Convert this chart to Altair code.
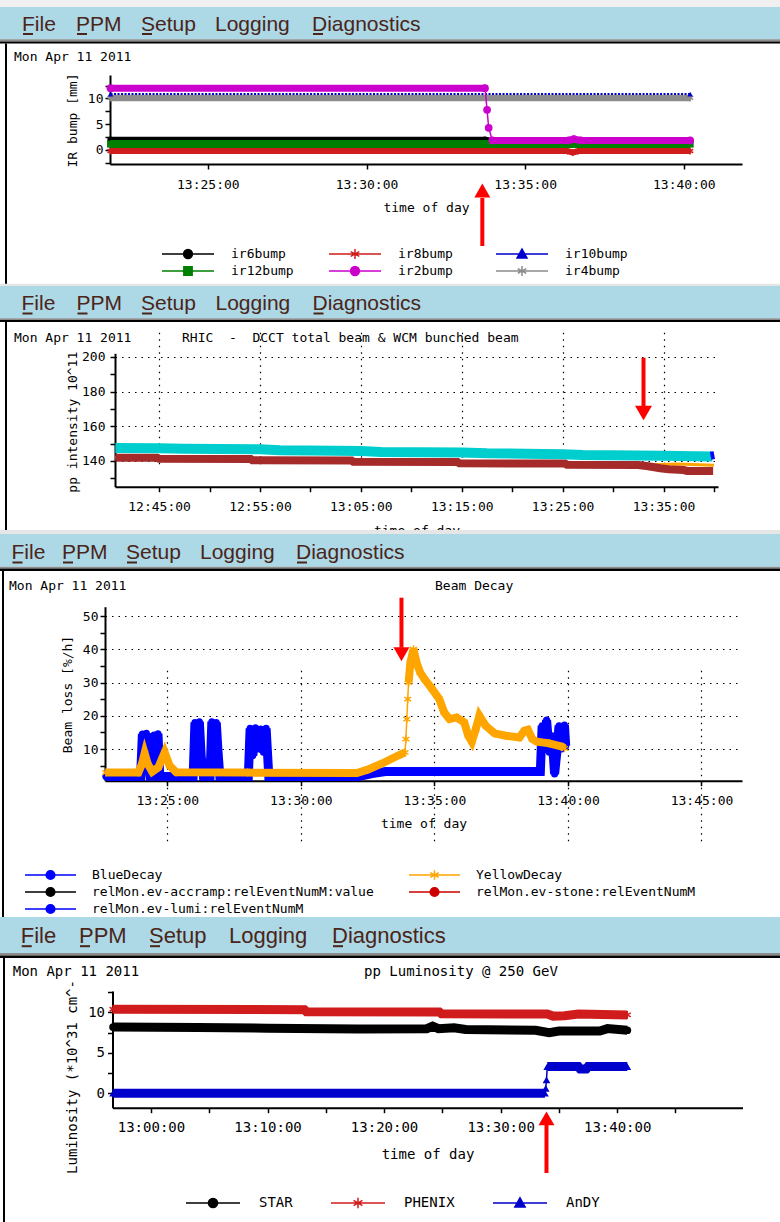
import math
import altair as alt
import pandas as pd

DAY = "2011-04-11"

# ---------------- IR bumps ----------------
ir_names = ["ir6bump", "ir8bump", "ir10bump", "ir12bump", "ir2bump", "ir4bump"]
ir_colors = ["#000000", "#d01c1c", "#0000cc", "#008000", "#cc00cc", "#8c8c8c"]
ir_markers = ["circle", "asterisk", "triangle", "square", "circle", "asterisk"]
ir6_t = ["13:21:56", "13:33:44", "13:33:58", "13:40:12"]
ir6_v = [2.0, 2.0, 1.8, 1.8]
ir8_t = ["13:21:56", "13:36:20", "13:36:30", "13:36:40", "13:40:12"]
ir8_v = [-0.2, -0.2, -0.5, -0.2, -0.2]
ir10_t = ["13:21:56", "13:40:12"]
ir10_v = [10.85, 10.85]
ir12_t = ["13:21:56", "13:40:12"]
ir12_v = [1.15, 1.15]
ir2_t = ["13:21:56", "13:33:44", "13:33:48", "13:33:51", "13:33:58",
         "13:36:22", "13:36:32", "13:36:45", "13:40:12"]
ir2_v = [12.0, 12.0, 7.8, 4.3, 1.85, 1.85, 2.1, 1.85, 1.85]
ir4_t = ["13:21:56", "13:40:12"]
ir4_v = [10.1, 10.1]
ir_xticks = ["13:25:00", "13:30:00", "13:35:00", "13:40:00"]
ir_yticks = [-2.5, 0, 2.5, 5, 7.5, 10, 12.5]

# ---------------- DCCT / WCM intensity ----------------
cyan_t = ["12:40:40", "12:45:00", "12:47:30", "12:55:00", "12:57:00", "13:05:00", "13:07:00",
          "13:15:00", "13:17:30", "13:25:00", "13:27:00", "13:35:00", "13:39:50"]
cyan_v = [147.5, 147.4, 147.0, 146.7, 146.2, 145.7, 145.2, 144.9, 144.4, 143.9, 143.5, 143.0, 142.6]
brown_t = ["12:40:40", "12:44:50", "12:45:00", "12:54:05", "12:54:15", "13:04:05", "13:04:15",
           "13:14:35", "13:14:45", "13:25:15", "13:25:25", "13:32:30", "13:33:30", "13:34:40",
           "13:35:30", "13:37:00", "13:37:20", "13:39:55"]
brown_v = [141.8, 141.8, 141.3, 141.2, 140.4, 140.3, 139.5, 139.4, 138.7, 138.5, 137.9, 137.7,
           137.0, 135.8, 135.3, 134.8, 134.3, 134.3]
amber_t = ["12:40:40", "13:33:30", "13:36:25", "13:40:00"]
amber_v = [142.0, 137.9, 138.2, 137.6]
navy_t = ["13:39:40", "13:40:02"]
navy_v = [143.0, 143.4]
dcct_xticks = ["12:45:00", "12:50:00", "12:55:00", "13:00:00", "13:05:00", "13:10:00", "13:15:00",
               "13:20:00", "13:25:00", "13:30:00", "13:35:00", "13:40:00"]
dcct_yticks = [130, 140, 150, 160, 170, 180, 190, 200]

# ---------------- Beam decay ----------------
decay_names = ["BlueDecay", "YellowDecay", "relMon.ev-accramp:relEventNumM:value",
               "relMon.ev-stone:relEventNumM", "relMon.ev-lumi:relEventNumM"]
decay_colors = ["#0000ff", "#ffa500", "#000000", "#cc0000", "#0000ff"]
decay_markers = ["circle", "asterisk", "circle", "circle", "circle"]
yellow_t = ["13:22:42", "13:23:55", "13:24:03", "13:24:09", "13:24:16", "13:24:26", "13:24:40",
            "13:24:54", "13:25:05", "13:25:20", "13:28:00", "13:32:06", "13:32:30", "13:33:00",
            "13:33:41", "13:33:54", "13:33:56", "13:33:58", "13:34:00", "13:34:02", "13:34:06",
            "13:34:13", "13:34:20", "13:34:28", "13:34:38", "13:34:55", "13:35:11", "13:35:22",
            "13:35:34", "13:35:50", "13:36:07", "13:36:16", "13:36:24", "13:36:33", "13:36:41",
            "13:36:55", "13:37:15", "13:37:40", "13:38:11", "13:38:22", "13:38:30", "13:38:40",
            "13:38:50", "13:39:18", "13:39:47", "13:39:52"]
yellow_v = [2.9, 2.9, 5.5, 8.7, 5.5, 3.2, 4.5, 9.0, 5.0, 3.0, 2.9, 2.8, 3.8, 5.5, 8.2, 9.0, 13, 19,
            25, 30, 36, 40, 36, 33, 31, 28, 25, 21, 19, 19.5, 18, 14, 12.2, 16, 20, 17, 14.7, 14,
            13.5, 15.5, 15.8, 13, 12.2, 11.7, 10.7, 10.2]
blue_t = ["13:22:42", "13:24:00", "13:24:04", "13:24:09", "13:24:13", "13:24:17", "13:24:21",
          "13:24:26", "13:24:30", "13:24:35", "13:24:39", "13:24:43", "13:25:58", "13:26:02",
          "13:26:08", "13:26:12", "13:26:16", "13:26:21", "13:26:36", "13:26:40", "13:26:46",
          "13:26:50", "13:26:54", "13:26:58", "13:28:02", "13:28:06", "13:28:12", "13:28:18",
          "13:28:24", "13:28:30", "13:28:36", "13:28:42", "13:28:48", "13:32:10", "13:32:40",
          "13:33:10", "13:38:58", "13:39:02", "13:39:07", "13:39:12", "13:39:18", "13:39:24",
          "13:39:30", "13:39:35", "13:39:40", "13:39:46", "13:39:52", "13:39:55"]
blue_v = [1.7, 1.7, 14.5, 6, 14.7, 7, 1.8, 1.8, 14.2, 7, 14.6, 1.8, 1.7, 18, 9, 18.2, 8, 1.7,
          1.7, 18.2, 8, 18, 9, 1.7, 1.7, 16.2, 8, 16.4, 10, 16, 9, 16.2, 1.7, 1.7, 2.6, 3.2,
          3.2, 17, 10, 18.7, 9, 14, 2.5, 9, 17, 10, 17.2, 11]
decay_xticks = ["13:25:00", "13:30:00", "13:35:00", "13:40:00", "13:45:00"]
decay_yticks = [5, 10, 15, 20, 25, 30, 35, 40, 45, 50]

# ---------------- Luminosity ----------------
lumi_names = ["STAR", "PHENIX", "AnDY"]
lumi_colors = ["#000000", "#d01c1c", "#0000cc"]
lumi_markers = ["circle", "asterisk", "triangle"]
star_t = ["12:56:45", "13:04:00", "13:10:00", "13:17:50", "13:23:40", "13:24:10", "13:24:40",
          "13:26:00", "13:27:00", "13:33:00", "13:34:10", "13:35:00", "13:38:30", "13:39:10",
          "13:40:52"]
star_v = [8.2, 8.15, 8.05, 7.95, 8.0, 8.3, 8.0, 8.1, 7.9, 7.8, 7.5, 7.7, 7.7, 8.0, 7.8]
phenix_t = ["12:56:45", "13:13:10", "13:13:20", "13:24:45", "13:24:55", "13:34:00", "13:34:30",
            "13:35:30", "13:36:40", "13:40:52"]
phenix_v = [10.4, 10.35, 10.1, 10.05, 9.85, 9.8, 9.55, 9.6, 9.8, 9.7]
andy_t = ["12:56:45", "13:33:48", "13:33:52", "13:33:56", "13:34:00", "13:36:40", "13:36:50",
          "13:37:20", "13:37:30", "13:40:52"]
andy_v = [0, 0, 0.6, 1.65, 3.3, 3.3, 3.0, 3.0, 3.3, 3.3]
lumi_xticks = ["13:00:00", "13:05:00", "13:10:00", "13:15:00", "13:20:00", "13:25:00",
               "13:30:00", "13:35:00", "13:40:00", "13:45:00"]
lumi_yticks = [0, 2.5, 5, 7.5, 10, 12.5]

# ---------------- styling ----------------
MONO = "DejaVu Sans Mono"
MENU_FONT = "Liberation Sans"
MENU_INK = "#4a2519"
BAR_BLUE = "#add8e6"
ARROW_RED = "#ff0000"
MENU = ["File", "PPM", "Setup", "Logging", "Diagnostics"]
UNDERLINED = [True, True, True, False, True]
ONE = pd.DataFrame({"k": [0]})

ASTER_MARK = "M0,-1V1M-0.87,-0.5L0.87,0.5M-0.87,0.5L0.87,-0.5"
MARK_SHAPE = {"circle": "circle", "square": "square", "triangle": "triangle-up",
              "asterisk": ASTER_MARK}
LEG_SHAPE = {
    "circle": "M-1,0H1M0.17,0A0.17,0.17,0,1,1,-0.17,0A0.17,0.17,0,1,1,0.17,0Z",
    "square": "M-1,0H1M-0.16,-0.16H0.16V0.16H-0.16Z",
    "triangle": "M-1,0H1M0,-0.19L0.19,0.15H-0.19Z",
    "asterisk": "M-1,0H1M0,-0.19V0.19M-0.165,-0.095L0.165,0.095M-0.165,0.095L0.165,-0.095",
}
CLOCK = "utcFormat(datum.value, '%H:%M:%S')"


def iso(t):
    return f"{DAY}T{t}Z"


def dt(t):
    h, m, s = (int(p) for p in t.split(":"))
    return alt.DateTime(year=2011, month=4, date=11, hours=h, minutes=m, seconds=s, utc=True)


def frame(times, values):
    return pd.DataFrame({"t": [iso(t) for t in times], "v": values})


def rect(x0, x1, y0, y1, color):
    return alt.Chart(ONE).mark_rect(color=color).encode(
        x=alt.value(x0), x2=alt.value(x1), y=alt.value(y0), y2=alt.value(y1))


def caption(x, y, text, size, font=MONO, color="black", baseline="middle"):
    return alt.Chart(ONE).mark_text(align="left", baseline=baseline, font=font,
                                    fontSize=size, color=color).encode(
        x=alt.value(x), y=alt.value(y), text=alt.value(text))


def window(bands, border, menu_x, menu_y, menu_size):
    layers = [rect(0, 780, y0, y1, c) for (y0, y1, c) in bands]
    bx0, bx1, by0, by1 = border
    layers.append(rect(bx0, bx1, by0, by1, "#000000"))
    for name, x, ul in zip(MENU, menu_x, UNDERLINED):
        layers.append(caption(x - 1, menu_y, name, menu_size, MENU_FONT, MENU_INK, "alphabetic"))
        if ul:
            layers.append(rect(x, x + 10, menu_y + 2.5, menu_y + 4.5, MENU_INK))
    return layers


def time_axis(ticks, axis_y, height, title_x, title_dy, fs, label_test=None,
              grid=False, grid_test=None):
    expr = f"({label_test}) ? {CLOCK} : ''" if label_test else CLOCK
    kw = dict(values=[dt(t) for t in ticks], labelExpr=expr,
              offset=axis_y - height, title="time of day", titleX=title_x, titleY=title_dy,
              titleAlign="center", titleBaseline="middle", titleFont=MONO, titleFontSize=fs,
              titleFontWeight="normal", titleColor="black", labelFont=MONO, labelFontSize=fs,
              labelColor="black", labelBaseline="middle", labelPadding=15, tickSize=5,
              tickColor="black", tickWidth=1.5, domainColor="black", domainWidth=2,
              labelOverlap=False, labelFlush=False, grid=grid)
    if grid:
        kw.update(gridColor="black", gridDash=[1.5, 5], gridWidth=1.2)
        if grid_test:
            kw["gridOpacity"] = {"condition": {"test": grid_test, "value": 1}, "value": 0}
    return alt.Axis(**kw)


def value_axis(ticks, axis_x, title, title_x, title_y, fs, label_test, pad,
               grid=False, grid_test=None):
    kw = dict(values=ticks, offset=-axis_x, title=title, titleX=title_x, titleY=title_y,
              titleAlign="center", titleBaseline="middle", titleAngle=270, titleFont=MONO,
              titleFontSize=fs, titleFontWeight="normal", titleColor="black",
              labelFont=MONO, labelFontSize=fs, labelColor="black", labelPadding=pad,
              labelExpr=f"({label_test}) ? datum.label : ''", tickSize=5, tickColor="black",
              tickWidth=1.5, domainColor="black", domainWidth=2, labelOverlap=False,
              labelFlush=False, grid=grid)
    if grid:
        kw.update(gridColor="black", gridDash=[1.5, 5], gridWidth=1.2)
        if grid_test:
            kw["gridOpacity"] = {"condition": {"test": grid_test, "value": 1}, "value": 0}
    return alt.Axis(**kw)


def trace(times, values, color, width, X, Y, marker=None, msize=50, dash=None, thin=None,
          thin_width=1.5):
    """Band-like trace; samples between thin=(i0, i1) are joined by a fine line only."""
    df = frame(times, values)
    out = []
    if thin:
        i0, i1 = thin
        seg = ["a" if i <= i0 else ("b" if i >= i1 else None) for i in range(len(df))]
        df = df.assign(seg=seg)
        band = alt.Chart(df.dropna(subset=["seg"])).mark_line(
            color=color, strokeWidth=width).encode(x=X, y=Y, detail="seg:N")
        fine = alt.Chart(df.iloc[i0:i1 + 1]).mark_line(
            color=color, strokeWidth=thin_width).encode(x=X, y=Y)
        out += [band, fine]
    else:
        lk = dict(color=color, strokeWidth=width)
        if dash:
            lk["strokeDash"] = dash
        out.append(alt.Chart(df).mark_line(**lk).encode(x=X, y=Y))
    if marker:
        base = alt.Chart(df[["t", "v"]])
        shape = MARK_SHAPE[marker]
        if marker == "asterisk":
            pts = base.mark_point(shape=shape, filled=False, color=color, strokeWidth=1.5,
                                  size=msize, opacity=1)
        else:
            pts = base.mark_point(shape=shape, filled=True, color=color, size=msize, opacity=1)
        out.append(pts.encode(x=X, y=Y))
    return out


def arrow(t, shaft, head_y, head_w, up, X):
    df = pd.DataFrame({"t": [iso(t)]})
    shaft_mark = alt.Chart(df).mark_rule(color=ARROW_RED, strokeWidth=4).encode(
        x=X, y=alt.value(shaft[0]), y2=alt.value(shaft[1]))
    head = alt.Chart(df).mark_point(shape="triangle-up" if up else "triangle-down", filled=True,
                                    color=ARROW_RED, size=head_w ** 2, opacity=1).encode(
        x=X, y=alt.value(head_y))
    return [shaft_mark, head]


def column_major(items, cols):
    rows = math.ceil(len(items) / cols)
    order = []
    for c in range(cols):
        for r in range(rows):
            i = r * cols + c
            if i < len(items):
                order.append(i)
    return [items[i] for i in order]


def key(names, colors, markers, cols, lx, ly, sym_w, label_off, col_pad, align, fs):
    idx = column_major(list(range(len(names))), cols)
    dom = [names[i] for i in idx]
    cols_ = [colors[i] for i in idx]
    shapes = [LEG_SHAPE[markers[i]] for i in idx]
    leg = alt.Legend(title=None, orient="none", legendX=lx, legendY=ly, columns=cols,
                     symbolSize=sym_w ** 2, symbolStrokeWidth=1.5, clipHeight=15, rowPadding=2,
                     columnPadding=col_pad, gridAlign=align, labelOffset=label_off,
                     labelLimit=600, labelFont=MONO, labelFontSize=fs, labelColor="black",
                     padding=0, symbolOffset=0)
    return alt.Chart(pd.DataFrame({"series": dom})).mark_point(
        filled=True, opacity=1, clip=True).encode(
        x=alt.value(-300), y=alt.value(-300),
        fill=alt.Fill("series:N", scale=alt.Scale(domain=dom, range=cols_), legend=leg),
        stroke=alt.Stroke("series:N", scale=alt.Scale(domain=dom, range=cols_), legend=leg),
        shape=alt.Shape("series:N", scale=alt.Scale(domain=dom, range=shapes), legend=leg))


# ================= panel 1: IR bumps =================
H1 = 285
xs1 = alt.Scale(type="utc", domain=[dt("13:21:55"), dt("13:41:50")], range=[110, 742])
ys1 = alt.Scale(domain=[-2.72, 14.56], range=[164, 75], nice=False, zero=False)
X1 = alt.X("t:T", scale=xs1, axis=time_axis(ir_xticks, 164, H1, 426, 43.3, 13))
Y1 = alt.Y("v:Q", scale=ys1, axis=value_axis(ir_yticks, 110, "IR bump [mm]", -38, 120, 13,
                                              "datum.value % 5 == 0", 2))
p1_layers = window([(0, 7, "#f0f0f0"), (7, 39.3, BAR_BLUE), (39.3, 41.5, "#8c8c8c"),
                    (41.5, 43.5, "#000000"), (283.7, 285, "#e6e6e6")],
                   (5, 7, 43.5, 283.7), [23, 77, 142, 216, 313], 30.5, 21)
p1_layers.append(caption(14, 57, "Mon Apr 11 2011", 13))
p1_layers += trace(ir8_t, ir8_v, ir_colors[1], 6, X1, Y1, "asterisk", 49)
p1_layers += trace(ir6_t, ir6_v, ir_colors[0], 6, X1, Y1, "circle", 40)
p1_layers += trace(ir12_t, ir12_v, ir_colors[3], 8, X1, Y1, "square", 49)
p1_layers += trace(ir4_t, ir4_v, ir_colors[5], 6.5, X1, Y1, "asterisk", 49)
p1_layers += trace(ir10_t, ir10_v, ir_colors[2], 2, X1, Y1, "triangle", 30, dash=[2, 1.5])
p1_layers += trace(ir2_t, ir2_v, ir_colors[4], 7, X1, Y1, "circle", 60, thin=(1, 4))
p1_layers += arrow("13:33:39", (198, 246), 190.5, 16, True, X1)
p1_layers.append(key(ir_names, ir_colors, ir_markers, 3, 161, 246.5, 52, 16, 34, "all", 13))
p1 = alt.layer(*p1_layers).properties(width=780, height=H1)

# ================= panel 2: DCCT total & WCM bunched =================
H2 = 249
xs2 = alt.Scale(type="utc", domain=[dt("12:40:38"), dt("13:40:24")], range=[115, 718])
ys2 = alt.Scale(domain=[125.2, 202.0], range=[201.7, 68.3], nice=False, zero=False)
odd5 = "utcminutes(datum.value) % 10 == 5"
X2 = alt.X("t:T", scale=xs2, axis=time_axis(dcct_xticks, 201.7, H2, 416.5, 43.5, 13,
                                             label_test=odd5, grid=True, grid_test=odd5))
Y2 = alt.Y("v:Q", scale=ys2, axis=value_axis(dcct_yticks, 115, "pp intensity 10^11", -43, 136.7,
                                              13, "datum.value % 20 == 0", 5, grid=True,
                                              grid_test="datum.value % 20 == 0"))
p2_layers = window([(0, 1, "#e6e6e6"), (1, 33.3, BAR_BLUE), (33.3, 35, "#8c8c8c"),
                    (35, 37, "#000000"), (245, 249, "#e6e6e6")],
                   (5, 7, 37, 245), [22.5, 77.5, 142, 216.5, 313.5], 25, 21)
p2_layers.append(caption(14, 53, "Mon Apr 11 2011", 13))
p2_layers.append(caption(182, 53, "RHIC\u00a0\u00a0-\u00a0\u00a0DCCT total beam & WCM bunched beam", 13))
p2_layers += trace(amber_t, amber_v, "#ffa500", 3, X2, Y2)
p2_layers += trace(brown_t, brown_v, "#a52a2a", 8, X2, Y2)
p2_layers += trace(cyan_t, cyan_v, "#00cdcd", 10, X2, Y2)
p2_layers += trace(navy_t, navy_v, "#0000ff", 8, X2, Y2)
p2_layers += arrow("13:33:01", (72.7, 121), 128, 17, False, X2)
p2 = alt.layer(*p2_layers).properties(width=780, height=H2)

# ================= panel 3: beam decay =================
H3 = 383
xs3 = alt.Scale(type="utc", domain=[dt("13:22:40"), dt("13:46:31")], range=[105, 742])
ys3 = alt.Scale(domain=[0.47, 52.8], range=[246.7, 72.7], nice=False, zero=False)
X3 = alt.X("t:T", scale=xs3, axis=time_axis(decay_xticks, 246.7, H3, 423.5, 42.3, 13, grid=True))
Y3 = alt.Y("v:Q", scale=ys3, axis=value_axis(decay_yticks, 105, "Beam loss [%/h]", -37.5, 160, 13,
                                              "datum.value % 10 == 0", 2, grid=True,
                                              grid_test="datum.value % 10 == 0"))
p3_layers = window([(0, 32.7, BAR_BLUE), (32.7, 34.5, "#8c8c8c"), (34.5, 37, "#000000")],
                   (2, 4, 37, 383), [12.5, 63, 127, 201, 297], 25, 21)
p3_layers.append(caption(9, 52, "Mon Apr 11 2011", 13))
p3_layers.append(caption(435, 52, "Beam Decay", 13))
p3_layers += trace(blue_t, blue_v, decay_colors[0], 9, X3, Y3, "circle", 50)
p3_layers += trace(yellow_t, yellow_v, decay_colors[1], 8, X3, Y3, "asterisk", 64, thin=(15, 19))
p3_layers += arrow("13:33:46", (63.7, 113.7), 120.2, 16, False, X3)
p3_layers.append(key(decay_names, decay_colors, decay_markers, 2, 24, 333.5, 51, 15, 34,
                     "each", 13))
p3 = alt.layer(*p3_layers).properties(width=780, height=H3)

# ================= panel 4: luminosity =================
H4 = 305
xs4 = alt.Scale(type="utc", domain=[dt("12:56:42"), dt("13:50:45")], range=[112.5, 742.5])
ys4 = alt.Scale(domain=[-1.79, 12.66], range=[190.7, 74], nice=False, zero=False)
X4 = alt.X("t:T", scale=xs4, axis=time_axis(lumi_xticks, 190.7, H4, 427.5, 46.3, 14,
                                             label_test="utcminutes(datum.value) % 10 == 0"))
Y4 = alt.Y("v:Q", scale=ys4, axis=value_axis(lumi_yticks, 112.5, "Luminosity (*10^31 cm^-", -40,
                                              159.5, 14, "datum.value % 5 == 0", 3))
p4_layers = window([(0, 36, BAR_BLUE), (36, 38.5, "#8c8c8c"), (38.5, 41, "#000000")],
                   (3, 5, 41, 305), [21.7, 80, 150, 230, 333], 25.7, 22)
p4_layers.append(caption(12.7, 55, "Mon Apr 11 2011", 14))
p4_layers.append(caption(364, 55, "pp Luminosity @ 250 GeV", 14))
p4_layers += trace(andy_t, andy_v, lumi_colors[2], 9, X4, Y4, "triangle", 60, thin=(1, 4))
p4_layers += trace(star_t, star_v, lumi_colors[0], 9, X4, Y4, "circle", 60)
p4_layers += trace(phenix_t, phenix_v, lumi_colors[1], 9, X4, Y4, "asterisk", 64)
p4_layers += arrow("13:33:56", (207, 256), 201.4, 16, True, X4)
p4_layers.append(key(lumi_names, lumi_colors, lumi_markers, 3, 185, 278.5, 54, 18, 37,
                     "each", 14))
p4 = alt.layer(*p4_layers).properties(width=780, height=H4)

chart = (
    alt.vconcat(p1, p2, p3, p4, spacing=0, bounds="flush")
    .resolve_scale(x="independent", y="independent", fill="independent",
                   stroke="independent", shape="independent")
    .resolve_legend(fill="independent", stroke="independent", shape="independent")
    .properties(padding=0, background="white")
    .configure_view(strokeWidth=0)
)

chart.save("out.html", embed_options={"renderer": "svg", "actions": False})
